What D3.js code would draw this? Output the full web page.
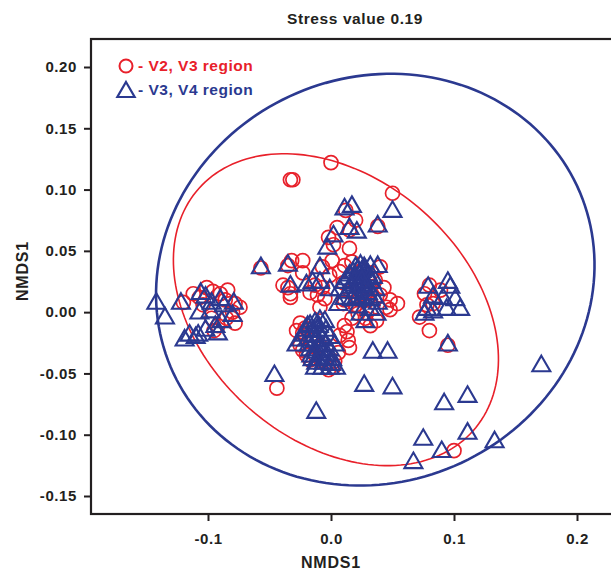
<!DOCTYPE html>
<html>
<head>
<meta charset="utf-8">
<script src="https://cdn.jsdelivr.net/npm/d3@7"></script>
<style>
body { margin: 0; background: #fff; }
text { font-family: "Liberation Sans", Arial, sans-serif; font-weight: bold; fill: #231f20; }
</style>
</head>
<body>
<div id="chart"></div>
<script>
var red = '#e8202a'
var blue = '#2b3990'
var ink = '#231f20'

var xTicks = [-0.1, 0.0, 0.1, 0.2]
var yTicks = [-0.15, -0.10, -0.05, 0.00, 0.05, 0.10, 0.15, 0.20]
var titleText = 'Stress value 0.19'
var legendLabels = ['- V2, V3 region', '- V3, V4 region']

// V2, V3 region (circles)
var v23 = [
	[0.000, 0.122], [-0.033, 0.108], [-0.031, 0.108], [0.050, 0.097], [0.012, 0.083],
	[0.020, 0.075], [0.005, 0.069], [0.015, 0.067], [-0.002, 0.061], [0.038, 0.070],
	[0.002, 0.055], [0.015, 0.052], [0.001, 0.042], [-0.023, 0.042], [-0.032, 0.042],
	[-0.057, 0.036], [-0.035, 0.038], [-0.023, 0.032], [-0.007, 0.037], [-0.035, 0.020],
	[-0.033, 0.012], [-0.007, 0.020], [0.040, 0.037], [-0.001, 0.030], [0.007, 0.033],
	[0.011, 0.038], [0.017, 0.041], [-0.013, 0.022], [-0.017, 0.016], [-0.011, 0.014],
	[-0.005, 0.011],
	[-0.101, 0.020], [-0.096, 0.017], [-0.090, 0.015], [-0.084, 0.018], [-0.120, 0.008],
	[-0.112, 0.015], [-0.086, 0.010], [-0.078, 0.007], [-0.080, 0.000], [-0.074, 0.004],
	[-0.078, -0.009], [-0.107, 0.012], [-0.104, 0.006], [-0.097, -0.005], [-0.085, -0.005],
	[-0.092, -0.011], [-0.095, -0.015],
	[-0.025, -0.009], [-0.023, -0.017], [0.015, -0.029], [-0.023, -0.031], [-0.017, -0.039],
	[0.002, -0.045], [-0.002, -0.047], [-0.009, 0.004], [0.010, 0.007], [0.029, -0.001],
	[0.037, -0.007], [0.048, 0.010], [0.048, 0.002], [0.054, 0.007], [-0.039, 0.022],
	[-0.033, 0.015], [-0.021, -0.013], [-0.017, -0.023], [-0.009, -0.027], [0.007, -0.019],
	[0.011, -0.011], [0.017, -0.005], [0.022, -0.001], [0.028, -0.005], [0.032, -0.011],
	[0.014, -0.023], [0.006, -0.033], [-0.013, -0.035], [-0.025, -0.027], [-0.028, -0.015],
	[0.010, 0.024], [0.015, 0.018], [0.024, 0.014], [0.032, 0.018], [0.036, 0.026],
	[0.011, 0.010], [0.020, 0.006], [0.030, 0.010], [0.040, 0.014], [0.025, 0.034],
	[0.033, 0.032], [0.020, 0.022], [0.028, 0.015], [-0.015, -0.025], [-0.008, -0.040],
	[-0.020, -0.035], [0.003, -0.040], [0.043, 0.020], [0.045, 0.004], [0.013, -0.016],
	[0.080, 0.022], [0.076, 0.015], [0.072, -0.004], [0.080, -0.015], [0.095, -0.027],
	[0.083, 0.007], [0.089, 0.018], [0.078, 0.006],
	[0.100, -0.113], [-0.044, -0.062]
]

// V3, V4 region (triangles)
var v34 = [
	[0.011, 0.084], [0.017, 0.086], [0.050, 0.082], [0.038, 0.070], [0.015, 0.068],
	[0.021, 0.065], [0.002, 0.062], [-0.003, 0.052], [-0.009, 0.036], [0.038, 0.037],
	[0.032, 0.037], [-0.057, 0.036], [-0.035, 0.038], [-0.033, 0.021], [-0.015, 0.024],
	[-0.020, 0.022], [-0.009, 0.024], [-0.001, 0.018],
	[-0.142, 0.007], [-0.135, -0.005], [-0.122, 0.007], [-0.106, 0.015], [-0.102, 0.012],
	[-0.097, 0.007], [-0.090, 0.010], [-0.107, -0.001], [-0.098, 0.000], [-0.087, 0.005],
	[-0.079, 0.007], [-0.080, -0.003], [-0.089, -0.008], [-0.094, -0.012], [-0.102, -0.015],
	[-0.108, -0.019], [-0.115, -0.019], [-0.119, -0.023], [-0.110, -0.021], [-0.092, -0.018],
	[0.020, 0.036], [0.022, 0.034], [0.024, 0.038], [0.025, 0.033], [0.028, 0.034],
	[0.015, 0.030], [0.020, 0.028], [0.026, 0.028], [0.030, 0.030], [0.011, 0.024],
	[0.017, 0.022], [0.024, 0.022], [0.028, 0.024], [0.033, 0.024], [0.007, 0.018],
	[0.014, 0.016], [0.020, 0.016], [0.027, 0.018], [0.036, 0.018], [0.011, 0.011],
	[0.017, 0.010], [0.025, 0.011], [0.032, 0.010], [0.038, 0.007], [0.006, 0.006],
	[0.032, 0.002], [0.037, -0.002], [0.024, -0.002], [0.028, -0.008], [0.022, 0.004],
	[0.018, 0.032], [0.023, 0.030], [0.027, 0.036], [0.031, 0.027], [0.019, 0.025],
	[0.022, 0.020], [0.029, 0.021], [0.034, 0.028], [0.013, 0.027], [0.016, 0.020],
	[0.025, 0.025], [0.030, 0.015], [0.021, 0.012], [0.035, 0.012],
	[-0.017, -0.011], [-0.013, -0.009], [-0.009, -0.007], [-0.005, -0.008], [-0.021, -0.015],
	[-0.015, -0.016], [-0.011, -0.015], [-0.004, -0.015], [-0.025, -0.023], [-0.019, -0.023],
	[-0.013, -0.024], [-0.007, -0.023], [-0.001, -0.021], [-0.017, -0.031], [-0.012, -0.033],
	[-0.007, -0.031], [-0.001, -0.031], [-0.015, -0.039], [-0.011, -0.039], [-0.005, -0.038],
	[0.001, -0.039], [-0.013, -0.046], [-0.007, -0.046], [-0.001, -0.046], [0.004, -0.046],
	[-0.028, -0.027], [0.003, -0.027],
	[-0.014, -0.020], [-0.009, -0.019], [-0.018, -0.027], [-0.010, -0.028], [-0.004, -0.027],
	[-0.016, -0.036], [-0.009, -0.035], [-0.003, -0.035], [-0.012, -0.042], [-0.006, -0.042],
	[0.000, -0.043], [-0.019, -0.012], [-0.022, -0.019], [-0.010, -0.012],
	[0.034, -0.033], [0.046, -0.033], [0.027, -0.060], [0.050, -0.062], [-0.046, -0.052],
	[-0.012, -0.082], [0.171, -0.044], [0.092, -0.075], [0.111, -0.069], [0.075, -0.104],
	[0.090, -0.114], [0.067, -0.123], [0.111, -0.099], [0.133, -0.106],
	[0.079, 0.020], [0.095, 0.024], [0.097, 0.020], [0.083, 0.012], [0.091, 0.011],
	[0.101, 0.010], [0.105, 0.002], [0.078, 0.002], [0.083, 0.000], [0.094, 0.002],
	[0.076, -0.002], [0.095, -0.027]
]

// ellipses: centre x, centre y, semi-major, semi-minor, angle (deg)
var ell23 = [0.004, 0.002, 0.149, 0.107, -41.6]
var ell34 = [0.036, 0.0265, 0.181, 0.165, 25]

var width = 611
var height = 572
var box = {left: 91, top: 39, bottom: 514, right: 700}

var x = d3.scaleLinear().domain([-0.1, 0.2]).range([208, 577])
var y = d3.scaleLinear().domain([-0.15, 0.2]).range([496, 67])

var svg = d3.select('#chart').append('svg')
	.attr('width', width)
	.attr('height', height)

function ellipsePath(e){
	var a = e[4]*Math.PI/180
	var pts = d3.range(0, 361, 2).map(t=>{
		var r = t*Math.PI/180
		var u = e[2]*Math.cos(r), v = e[3]*Math.sin(r)
		return [e[0] + u*Math.cos(a) - v*Math.sin(a), e[1] + u*Math.sin(a) + v*Math.cos(a)]
	})
	return d3.line().x(d=>x(d[0])).y(d=>y(d[1])).curve(d3.curveLinearClosed)(pts)
}

function drawAxes(){
	svg.append('rect')
		.attr('x', box.left).attr('y', box.top)
		.attr('width', box.right-box.left).attr('height', box.bottom-box.top)
		.attr('fill', 'none').attr('stroke', ink).attr('stroke-width', 2.2)

	var ya = svg.append('g').attr('transform', 'translate(' + box.left + ',0)')
		.call(d3.axisLeft(y).tickValues(yTicks).tickSize(7).tickPadding(7).tickFormat(d=>d.toFixed(2)))
	var xa = svg.append('g').attr('transform', 'translate(0,' + box.bottom + ')')
		.call(d3.axisBottom(x).tickValues(xTicks).tickSize(7).tickPadding(12).tickFormat(d=>d.toFixed(1)))
	;[ya, xa].forEach(g=>{
		g.select('.domain').remove()
		g.selectAll('line').attr('stroke', ink).attr('stroke-width', 2)
		g.selectAll('text').attr('fill', ink).style('font-size', '15px')
			.style('font-family', '"Liberation Sans", Arial, sans-serif')
			.style('font-weight', 'bold').style('letter-spacing', '0.6px')
	})

	svg.append('text').attr('x', 355).attr('y', 24).attr('text-anchor', 'middle')
		.style('font-size', '15.5px').style('letter-spacing', '0.6px').text(titleText)
	svg.append('text').attr('x', 331).attr('y', 568).attr('text-anchor', 'middle')
		.style('font-size', '16px').style('letter-spacing', '0.8px').text('NMDS1')
	svg.append('text').attr('transform', 'translate(28,271) rotate(-90)').attr('text-anchor', 'middle')
		.style('font-size', '16px').style('letter-spacing', '0.8px').text('NMDS1')
}

function drawEllipses(){
	svg.append('path').attr('d', ellipsePath(ell34))
		.attr('fill', 'none').attr('stroke', blue).attr('stroke-width', 2.6)
	svg.append('path').attr('d', ellipsePath(ell23))
		.attr('fill', 'none').attr('stroke', red).attr('stroke-width', 1.6)
}

function drawPoints(){
	svg.append('g').selectAll('circle').data(v23).enter().append('circle')
		.attr('cx', d=>x(d[0])).attr('cy', d=>y(d[1])).attr('r', 7)
		.attr('fill', 'none').attr('stroke', red).attr('stroke-width', 1.7)
	var tri = d3.symbol().type(d3.symbolTriangle).size(140)
	svg.append('g').selectAll('path').data(v34).enter().append('path')
		.attr('d', tri)
		.attr('transform', d=>'translate(' + x(d[0]) + ',' + y(d[1]) + ')')
		.attr('fill', 'none').attr('stroke', blue).attr('stroke-width', 2.1)
}

function drawLegend(){
	var lg = svg.append('g')
	lg.append('circle').attr('cx', 126).attr('cy', 66).attr('r', 6.5)
		.attr('fill', 'none').attr('stroke', red).attr('stroke-width', 2)
	lg.append('path').attr('d', d3.symbol().type(d3.symbolTriangle).size(130))
		.attr('transform', 'translate(126,92)')
		.attr('fill', 'none').attr('stroke', blue).attr('stroke-width', 2.2)
	lg.append('text').attr('x', 138).attr('y', 71).style('fill', red)
		.style('font-size', '15.5px').style('letter-spacing', '0.5px').text(legendLabels[0])
	lg.append('text').attr('x', 138).attr('y', 95).style('fill', blue)
		.style('font-size', '15.5px').style('letter-spacing', '0.5px').text(legendLabels[1])
}

drawAxes()
drawEllipses()
drawPoints()
drawLegend()
</script>
</body>
</html>
